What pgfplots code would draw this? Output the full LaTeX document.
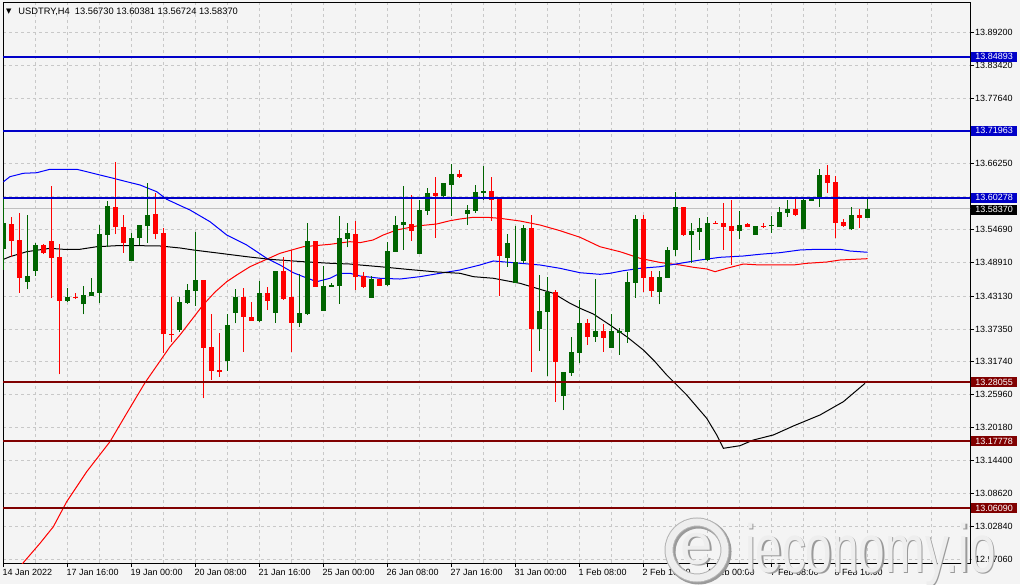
\documentclass[border=0pt]{standalone}
\usepackage{pgfplots}
\usepackage{pgfplotstable}
\pgfplotsset{compat=1.18}
\usetikzlibrary{backgrounds}
\usepackage{fontspec}
\setmainfont{Liberation Sans}
\newfontfamily\dejavu{DejaVu Sans}

\definecolor{bgc}{HTML}{F4F4F4}
\definecolor{gridc}{HTML}{C8C8C8}
\definecolor{upc}{HTML}{006400}
\definecolor{dnc}{HTML}{FF0000}
\definecolor{hblue}{HTML}{0000C8}
\definecolor{hred}{HTML}{800000}
\definecolor{curp}{HTML}{C0C0C0}
\definecolor{wmd}{HTML}{9A9A9A}
\definecolor{wmm}{HTML}{B4B4B4}
\definecolor{wml}{HTML}{EEEEEE}

\newcommand\ft{\fontsize{9}{10}\selectfont}

% H4 candles, x = bar number (0 = 14 Jan 2022 08:00)
\pgfplotstableread{
x o h l c
0 13.5126 13.6045 13.4766 13.5592
3 13.4561 13.5726 13.4428 13.4661
4 13.4754 13.5231 13.4661 13.5202
8 13.4224 13.4446 13.4212 13.4294
10 13.4167 13.4486 13.3992 13.4329
11 13.4317 13.4626 13.4317 13.4376
12 13.4369 13.5552 13.4184 13.5394
13 13.5382 13.5971 13.5161 13.5883
16 13.4928 13.5417 13.4928 13.5319
17 13.5319 13.5546 13.5202 13.5546
18 13.5539 13.6279 13.5242 13.5726
22 13.3718 13.4300 13.3688 13.4207
23 13.4195 13.4521 13.4172 13.4416
24 13.4404 13.5434 13.4142 13.4591
28 13.3182 13.3992 13.3007 13.3806
29 13.4020 13.4439 13.3835 13.4300
32 13.3881 13.4573 13.3863 13.4358
34 13.4020 13.4748 13.3846 13.4748
37 13.3846 13.4696 13.3776 13.4009
38 13.3997 13.5592 13.3980 13.5272
40 13.4055 13.4836 13.4055 13.4486
41 13.4474 13.4533 13.4474 13.4509
42 13.4486 13.5708 13.4172 13.5319
43 13.5315 13.5592 13.5161 13.5406
46 13.4282 13.4661 13.4282 13.4608
48 13.4503 13.5249 13.4486 13.5097
49 13.5085 13.5708 13.5085 13.5552
50 13.5557 13.6232 13.5115 13.5610
52 13.5045 13.5988 13.5045 13.5813
53 13.5801 13.6203 13.5726 13.6115
55 13.6057 13.6290 13.6017 13.6290
56 13.6250 13.6616 13.5708 13.6442
58 13.5743 13.5901 13.5552 13.5813
59 13.5801 13.6250 13.5766 13.6127
60 13.6115 13.6581 13.5988 13.6144
63 13.4980 13.5394 13.4824 13.5231
64 13.4533 13.5534 13.4533 13.4900
65 13.4928 13.5552 13.4882 13.5494
67 13.3730 13.4678 13.3357 13.4050
68 13.4038 13.4649 13.2920 13.4376
70 13.2566 13.2990 13.2321 13.2990
71 13.2973 13.3602 13.2915 13.3339
72 13.3322 13.4242 13.3136 13.3846
74 13.3602 13.4608 13.3514 13.3701
76 13.3409 13.3997 13.3409 13.3701
77 13.3665 13.3747 13.3282 13.3701
78 13.3689 13.4736 13.3496 13.4556
79 13.4544 13.5726 13.4282 13.5656
82 13.4387 13.4754 13.4167 13.4649
83 13.4631 13.5173 13.4631 13.5115
84 13.5115 13.6133 13.5010 13.5871
86 13.5377 13.5592 13.4893 13.5452
87 13.5434 13.5668 13.5115 13.5504
88 13.4940 13.5696 13.4928 13.5592
92 13.5447 13.5796 13.5301 13.5552
94 13.5377 13.5534 13.5377 13.5534
96 13.5529 13.5708 13.5417 13.5546
97 13.5511 13.5871 13.5511 13.5778
98 13.5766 13.5988 13.5696 13.5831
100 13.5482 13.6045 13.5482 13.5988
101 13.5976 13.6045 13.5976 13.6028
102 13.6017 13.6529 13.5871 13.6424
106 13.5476 13.5871 13.5464 13.5726
108 13.5673 13.6038 13.5672 13.5837
}\bull

\pgfplotstableread{
x o h l c
1 13.5569 13.5696 13.4987 13.5277
2 13.5289 13.5766 13.4369 13.4631
5 13.5202 13.5215 13.5050 13.5057
6 13.5272 13.6232 13.4271 13.4980
7 13.4992 13.5214 13.2944 13.4230
9 13.4300 13.4358 13.4259 13.4271
14 13.5860 13.6646 13.5394 13.5511
15 13.5511 13.5726 13.5068 13.5231
19 13.5743 13.6115 13.5301 13.5394
20 13.5406 13.5494 13.3322 13.3643
21 13.3648 13.4300 13.3514 13.3630
25 13.4591 13.4591 13.2526 13.3409
26 13.3427 13.3992 13.2845 13.3007
27 13.3025 13.3660 13.2903 13.2990
30 13.4300 13.4456 13.3339 13.3950
31 13.3940 13.4212 13.3881 13.3881
33 13.4358 13.4474 13.4067 13.4230
35 13.4748 13.4987 13.4242 13.4259
36 13.4300 13.5115 13.3339 13.3846
39 13.5272 13.5272 13.4474 13.4474
44 13.5394 13.5627 13.4416 13.4649
45 13.4661 13.4726 13.4446 13.4474
47 13.4608 13.4608 13.4491 13.4491
51 13.5569 13.6075 13.5277 13.5452
54 13.6115 13.6395 13.5330 13.6063
57 13.6442 13.6512 13.6372 13.6395
61 13.6139 13.6395 13.5627 13.5988
62 13.6000 13.6000 13.4317 13.5010
66 13.5494 13.5726 13.2990 13.3730
69 13.4376 13.4416 13.2466 13.3164
73 13.3846 13.3916 13.3456 13.3602
75 13.3701 13.3823 13.3339 13.3584
80 13.5656 13.5726 13.4387 13.4631
81 13.4649 13.4754 13.4300 13.4404
85 13.5871 13.5871 13.5359 13.5377
89 13.5592 13.5616 13.5569 13.5569
90 13.5592 13.5941 13.5115 13.5522
91 13.5534 13.5988 13.4853 13.5447
93 13.5569 13.5592 13.5511 13.5522
95 13.5529 13.5592 13.5505 13.5512
99 13.5831 13.6017 13.5708 13.5726
103 13.6424 13.6599 13.6115 13.6290
104 13.6297 13.6407 13.5319 13.5592
105 13.5610 13.5656 13.5522 13.5534
107 13.5726 13.5825 13.5504 13.5668
}\bear

\begin{document}
\begin{tikzpicture}[font=\ft]
\begin{axis}[
    at={(0,0)}, anchor=south west,
    scale only axis,
    width=967pt, height=560pt,
    xmin=-0.0625, xmax=120.81,
    ymin=12.96495, ymax=13.94276,
    axis background/.style={fill=bgc},
    axis line style={black, line width=1pt},
    tick style={black, line width=0.8pt},
    major tick length=4pt, minor tick length=0pt,
    tick align=outside,
    xtick pos=bottom, ytick pos=right,
    yticklabel pos=right,
    xtick={0,8,...,104},
    xticklabels={14 Jan 2022, 17 Jan 16:00, 19 Jan 00:00, 20 Jan 08:00,
      21 Jan 16:00, 25 Jan 00:00, 26 Jan 08:00, 27 Jan 16:00, 31 Jan 00:00,
      1 Feb 08:00, 2 Feb 16:00, 4 Feb 00:00, 7 Feb 08:00, 8 Feb 16:00},
    minor xtick={4,12,...,120},
    ytick={12.9706,13.0284,13.0862,13.1440,13.2018,13.2596,13.3174,13.3735,
      13.4313,13.4891,13.5469,13.6047,13.6625,13.7186,13.7764,13.8342,13.8920},
    yticklabels={12.97060,13.02840,13.08620,13.14400,13.20180,13.25960,
      13.31740,13.37350,13.43130,13.48910,13.54690,,13.66250,,13.77640,
      13.83420,13.89200},
    xticklabel style={anchor=north west, inner sep=0pt, xshift=-1pt, yshift=-2pt},
    yticklabel style={anchor=west, inner sep=0pt, xshift=1pt},
    xmajorgrids, xminorgrids, ymajorgrids,
    grid style={gridc, line width=0.8pt, dash pattern=on 3pt off 3pt},
]

% current price line
\addplot[curp, line width=1pt, forget plot] coordinates {(-1,13.5837) (122,13.5837)};

% moving averages
\addplot[dnc, line width=1pt] coordinates {
 (0,12.9248) (2.475,12.9655) (4.56,12.9993) (6.23,13.0283) (7.9,13.0720)
 (10.4,13.1244) (13.31,13.1768) (15.4,13.2263) (17.69,13.2798) (20.81,13.3426)
 (22.06,13.3631) (24.94,13.4154) (26.44,13.4381) (27.9,13.4561) (29.15,13.4678)
 (30.81,13.4823) (32.69,13.4940) (34.56,13.5057) (37.48,13.5172) (40.81,13.5214)
 (43.31,13.5260) (44.56,13.5243) (46.19,13.5289) (47.48,13.5377) (49.15,13.5464)
 (51.65,13.5534) (54.15,13.5569) (55.81,13.5626) (57.06,13.5656) (58.73,13.5686)
 (60.4,13.5686) (62.06,13.5668) (64.56,13.5621) (67.06,13.5551) (69.56,13.5452)
 (72.06,13.5337) (74.56,13.5172) (77.06,13.5085) (79.56,13.4970) (82.06,13.4897)
 (84.56,13.4853) (86.23,13.4813) (87.9,13.4783) (88.94,13.4736) (90.4,13.4795)
 (92.48,13.4870) (94.56,13.4853) (98.73,13.4853) (100.4,13.4882) (102.9,13.4905)
 (104.56,13.4940) (108,13.4963)};
\addplot[blue, line width=1pt] coordinates {
 (0,13.6307) (0.81,13.6395) (2.48,13.6454) (4.15,13.6464) (5.81,13.6524)
 (9.15,13.6524) (10.4,13.6482) (12.06,13.6424) (13.73,13.6367) (15.4,13.6307)
 (17.06,13.6250) (19.15,13.6133) (20.4,13.6000) (22.06,13.5892) (23.31,13.5813)
 (25.81,13.5609) (27.9,13.5377) (30.4,13.5202) (32.9,13.4970) (34.56,13.4853)
 (36.23,13.4718) (37.48,13.4649) (39.15,13.4561) (40.81,13.4621) (42.06,13.4708)
 (43.31,13.4708) (44.56,13.4661) (47.06,13.4621) (49.56,13.4608) (52.06,13.4649)
 (54.56,13.4708) (57.06,13.4766) (59.56,13.4853) (61.23,13.4923) (64.56,13.4883)
 (67.06,13.4853) (69.56,13.4795) (72.06,13.4718) (74.56,13.4690) (75.81,13.4708)
 (77.48,13.4753) (79.56,13.4795) (82.06,13.4823) (84.56,13.4882) (87.06,13.4940)
 (89.56,13.4987) (92.48,13.5010) (94.56,13.5040) (97.06,13.5068) (99.56,13.5115)
 (101.65,13.5127) (104.56,13.5127) (105.81,13.5097) (108,13.5075)};
\addplot[black, line width=1pt] coordinates {
 (0,13.4952) (0.81,13.4998) (2.9,13.5085) (5.81,13.5144) (7.48,13.5127)
 (9.56,13.5127) (11.65,13.5172) (14.15,13.5190) (17.06,13.5190) (19.56,13.5185)
 (22.06,13.5150) (23.73,13.5115) (27.06,13.5057) (30.4,13.4998) (33.31,13.4952)
 (37.48,13.4910) (40.81,13.4883) (43.31,13.4870) (44.56,13.4853) (47.06,13.4823)
 (50.4,13.4778) (54.15,13.4731) (57.06,13.4708) (58.73,13.4649) (61.23,13.4621)
 (64.56,13.4533) (66.65,13.4446) (68.73,13.4359) (70.81,13.4184) (72.06,13.4097)
 (73.73,13.3997) (75.81,13.3805) (77.9,13.3601) (79.98,13.3369) (81.44,13.3164)
 (82.9,13.2932) (83.94,13.2787) (85.4,13.2583) (86.65,13.2379) (87.9,13.2176)
 (89.15,13.1885) (89.98,13.1652) (92.06,13.1698) (93.73,13.1797) (96.23,13.1885)
 (98.73,13.2042) (102.06,13.2234) (104.98,13.2466) (107.69,13.2787)};

% wicks
\addplot[draw=none, mark=none, forget plot,
  error bars/.cd, y dir=plus, y explicit, error mark=none,
  error bar style={draw=upc, line width=1pt}]
  table[x=x, y=l, y error expr=\thisrow{h}-\thisrow{l}] {\bull};
\addplot[draw=none, mark=none, forget plot,
  error bars/.cd, y dir=plus, y explicit, error mark=none,
  error bar style={draw=dnc, line width=1pt}]
  table[x=x, y=l, y error expr=\thisrow{h}-\thisrow{l}] {\bear};
% bodies
\addplot[draw=none, mark=none, forget plot,
  error bars/.cd, y dir=plus, y explicit, error mark=none,
  error bar style={draw=upc, line width=5.5pt}]
  table[x=x, y=o, y error expr=\thisrow{c}-\thisrow{o}] {\bull};
\addplot[draw=none, mark=none, forget plot,
  error bars/.cd, y dir=plus, y explicit, error mark=none,
  error bar style={draw=dnc, line width=5.5pt}]
  table[x=x, y=c, y error expr=\thisrow{o}-\thisrow{c}] {\bear};

% horizontal levels
\addplot[hblue, line width=2pt] coordinates {(-1,13.84893) (122,13.84893)};
\addplot[hblue, line width=2pt] coordinates {(-1,13.71963) (122,13.71963)};
\addplot[hblue, line width=2pt] coordinates {(-1,13.60278) (122,13.60278)};
\addplot[hred, line width=2pt] coordinates {(-1,13.28055) (122,13.28055)};
\addplot[hred, line width=2pt] coordinates {(-1,13.17778) (122,13.17778)};
\addplot[hred, line width=2pt] coordinates {(-1,13.06090) (122,13.06090)};

\coordinate (b1) at (axis cs:120.81,13.84893);
\coordinate (b2) at (axis cs:120.81,13.71963);
\coordinate (b3) at (axis cs:120.81,13.60278);
\coordinate (cp) at (axis cs:120.81,13.58370);
\coordinate (r1) at (axis cs:120.81,13.28055);
\coordinate (r2) at (axis cs:120.81,13.17778);
\coordinate (r3) at (axis cs:120.81,13.06090);

\node[anchor=west, inner sep=0pt, font=\dejavu\fontsize{7}{7}\selectfont]
  at (rel axis cs:0.003,0.985) {▼};
\node[anchor=west, inner sep=0pt, font=\fontsize{9.3}{10}\selectfont]
  at (rel axis cs:0.0158,0.985)
  {USDTRY,H4\ \ 13.56730 13.60381 13.56724 13.58370};
\end{axis}

\begin{scope}[every node/.style={anchor=west, inner sep=0pt, text=white,
    minimum width=46pt, minimum height=10pt, font=\ft}]
\node[fill=hblue] at ([xshift=1pt]b1) {13.84893};
\node[fill=hblue] at ([xshift=1pt]b2) {13.71963};
\node[fill=hblue] at ([xshift=1pt]b3) {13.60278};
\node[fill=black] at ([xshift=1pt,yshift=-1pt]cp) {13.58370};
\node[fill=hred] at ([xshift=1pt]r1) {13.28055};
\node[fill=hred] at ([xshift=1pt]r2) {13.17778};
\node[fill=hred] at ([xshift=1pt]r3) {13.06090};
\end{scope}

% watermark
\coordinate (lg) at (694pt,13pt);
\draw[wmd, line width=10pt] ([shift={(1.5pt,-1.5pt)}]lg) circle (28pt);
\draw[wmm, line width=9pt] (lg) circle (28pt);
\draw[wml, line width=7pt] (lg) circle (28pt);
\node[anchor=center, inner sep=0pt, text=wmd, font=\fontsize{58}{58}\selectfont]
  at (695.5pt,12.5pt) {e};
\node[anchor=center, inner sep=0pt, text=wml, font=\fontsize{58}{58}\selectfont]
  at (694pt,14pt) {e};
\node[anchor=base west, inner sep=0pt, text=wmd, xscale=0.7,
  font=\fontsize{68}{68}\selectfont] at (743.5pt,-10.5pt) {ieconomy.io};
\node[anchor=base west, inner sep=0pt, text=wml, xscale=0.7,
  font=\fontsize{68}{68}\selectfont] at (742pt,-9pt) {ieconomy.io};

\begin{scope}[on background layer]
\fill[bgc] (-3pt,-21pt) rectangle (1017pt,563pt);
\end{scope}
\pgfresetboundingbox
\path[use as bounding box] (-3pt,-21pt) rectangle (1017pt,563pt);
\end{tikzpicture}
\end{document}
